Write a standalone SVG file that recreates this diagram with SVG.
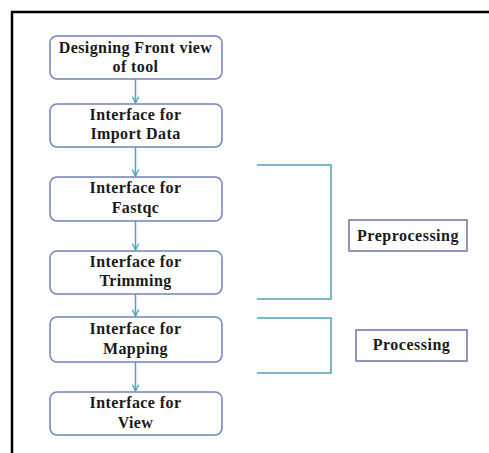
<svg xmlns="http://www.w3.org/2000/svg" width="489" height="453" viewBox="0 0 489 453">
<style>
.box{fill:#fff;stroke:#7382BA;stroke-width:1.5}
.lbl{fill:#fff;stroke:#6A74A8;stroke-width:1.5}
.t{font-family:"Liberation Serif","Times New Roman",serif;font-weight:bold;font-size:16px;letter-spacing:0.4px;fill:#1a1a1a;text-anchor:middle}
.s{letter-spacing:0.5px}
.c{fill:none;stroke:#4FA3B8;stroke-width:1.5}
</style>
<defs>
<marker id="ah" viewBox="0 0 10 10" refX="9" refY="5" markerWidth="8" markerHeight="8" markerUnits="userSpaceOnUse" orient="auto">
<path d="M1,1 L9,5 L1,9" fill="none" stroke="#4FA3B8" stroke-width="1.6"/>
</marker>
</defs>
<rect width="489" height="453" fill="#fff"/>
<path d="M12,453 L12,12 L489,12" fill="none" stroke="#000" stroke-width="2.5"/>
<g id="connectors">
<line class="c" x1="135.5" y1="79" x2="135.5" y2="103" marker-end="url(#ah)"/>
<line class="c" x1="135.5" y1="147" x2="135.5" y2="176" marker-end="url(#ah)"/>
<line class="c" x1="135.5" y1="221" x2="135.5" y2="250" marker-end="url(#ah)"/>
<line class="c" x1="135.5" y1="294" x2="135.5" y2="316" marker-end="url(#ah)"/>
<line class="c" x1="135.5" y1="362" x2="135.5" y2="391" marker-end="url(#ah)"/>
<path class="c" d="M257,165 L331,165 L331,299 L257,299"/>
<path class="c" d="M257,318 L331,318 L331,373 L257,373"/>
</g>
<g id="n1"><rect class="box" x="50" y="36" width="172" height="43" rx="7"/><text class="t" x="135.5" y="53">Designing Front view</text><text class="t" x="135.5" y="72">of tool</text></g>
<g id="n2"><rect class="box" x="50" y="104" width="172" height="43" rx="7"/><text class="t" x="135.5" y="120">Interface for</text><text class="t" x="135.5" y="139">Import Data</text></g>
<g id="n3"><rect class="box" x="50" y="177" width="172" height="44" rx="7"/><text class="t" x="135.5" y="193">Interface for</text><text class="t" x="135.5" y="213">Fastqc</text></g>
<g id="n4"><rect class="box" x="50" y="251" width="172" height="43" rx="7"/><text class="t" x="135.5" y="267">Interface for</text><text class="t" x="135.5" y="286">Trimming</text></g>
<g id="n5"><rect class="box" x="50" y="317" width="172" height="45" rx="7"/><text class="t" x="135.5" y="334">Interface for</text><text class="t" x="135.5" y="354">Mapping</text></g>
<g id="n6"><rect class="box" x="50" y="392" width="172" height="43" rx="7"/><text class="t" x="135.5" y="408">Interface for</text><text class="t" x="135.5" y="428">View</text></g>
<g id="preprocessing"><rect class="lbl" x="349" y="220" width="118" height="31"/><text class="t s" x="408" y="241">Preprocessing</text></g>
<g id="processing"><rect class="lbl" x="356" y="330" width="111" height="31"/><text class="t s" x="411.5" y="350">Processing</text></g>
</svg>
